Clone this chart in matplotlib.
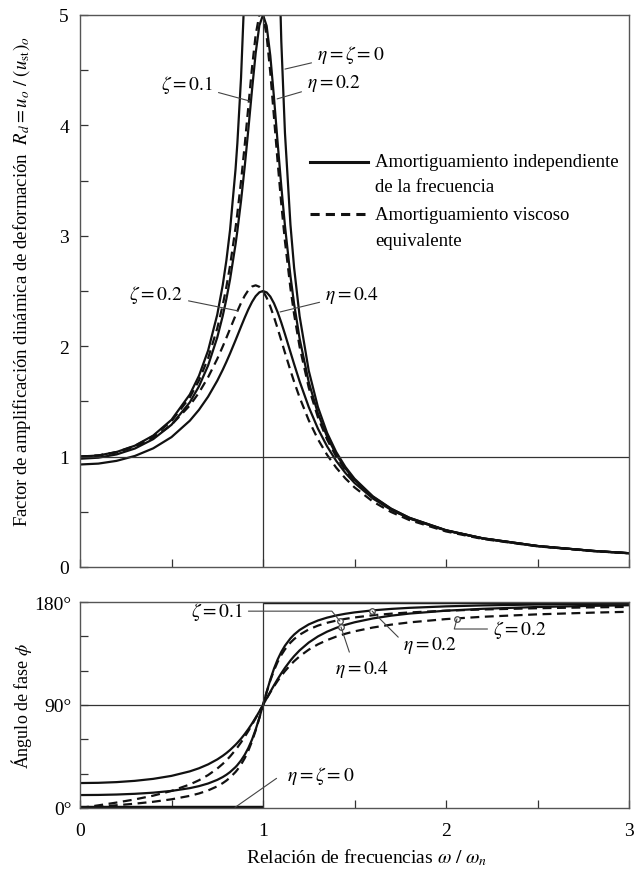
import numpy as np
import matplotlib
matplotlib.use('Agg')
import matplotlib.pyplot as plt
from matplotlib.lines import Line2D

plt.rcParams['font.family'] = ['Liberation Serif', 'DejaVu Serif']
plt.rcParams['mathtext.fontset'] = 'stix'

# frequency ratio w / wn
r = [0.0, 0.1, 0.2, 0.3, 0.4, 0.5, 0.6, 0.65, 0.7, 0.75, 0.78, 0.8, 0.82, 0.85, 0.86,
     0.88, 0.9, 0.92, 0.94, 0.96, 0.98, 1.0, 1.02, 1.04, 1.06, 1.08, 1.1, 1.12, 1.15,
     1.17, 1.2, 1.25, 1.3, 1.35, 1.4, 1.45, 1.5, 1.6, 1.7, 1.8, 2.0, 2.2, 2.5, 2.8, 3.0]

# deformation response factor Rd
rd_none = [1.0, 1.0101, 1.0417, 1.0989, 1.1905, 1.3333, 1.5625, 1.7316, 1.9608, 2.2857,
           2.5536, 2.7778, 3.0525, 3.6036, 3.8402, 4.4326, 5.2632, 6.5104, 8.5911, 12.755,
           25.253, np.nan, 24.752, 12.255, 8.0906, 6.0096, 4.7619, 3.9308, 3.1008, 2.7108,
           2.2727, 1.7778, 1.4493, 1.2158, 1.0417, 0.9070, 0.8, 0.6410, 0.5291, 0.4464,
           0.3333, 0.2604, 0.1905, 0.1462, 0.125]
rd_eta02 = [0.9806, 0.9901, 1.0198, 1.0733, 1.1581, 1.2883, 1.4914, 1.6363, 1.8254, 2.0788,
            2.2742, 2.4282, 2.6054, 2.9234, 3.0456, 3.3168, 3.6250, 3.9655, 4.3214, 4.6551,
            4.9048, 5.0, 4.9010, 4.6295, 4.2533, 3.8436, 3.4483, 3.0902, 2.6352, 2.3831,
            2.0690, 1.6750, 1.3920, 1.1814, 1.0198, 0.8925, 0.7900, 0.6358, 0.5262, 0.4447,
            0.3326, 0.2601, 0.1903, 0.1461, 0.1250]
rd_eta04 = [0.9285, 0.9365, 0.9615, 1.0060, 1.0748, 1.1765, 1.3250, 1.4235, 1.5428, 1.6869,
            1.7864, 1.8582, 1.9341, 2.0541, 2.0951, 2.1776, 2.2582, 2.3339, 2.4004, 2.4533,
            2.4878, 2.5, 2.4873, 2.4495, 2.3886, 2.3082, 2.2135, 2.1095, 1.9462, 1.8378,
            1.6817, 1.4488, 1.2538, 1.0934, 0.9615, 0.8526, 0.7619, 0.6209, 0.5176, 0.4395,
            0.3304, 0.2590, 0.1899, 0.1459, 0.1248]
rd_zeta01 = [1.0, 1.0099, 1.0408, 1.0965, 1.1851, 1.3216, 1.5357, 1.6893, 1.8908, 2.1622,
             2.3723, 2.5384, 2.7296, 3.0728, 3.2043, 3.4949, 3.8208, 4.1721, 4.5224, 4.8218,
             5.0010, 5.0, 4.8086, 4.4756, 4.0749, 3.6675, 3.2880, 2.9502, 2.5245, 2.2891,
             1.9952, 1.6246, 1.3562, 1.1552, 1.0, 0.8772, 0.7779, 0.6279, 0.5207, 0.4408,
             0.3304, 0.2587, 0.1896, 0.1457, 0.1247]
rd_zeta02 = [1.0, 1.0093, 1.0381, 1.0895, 1.1695, 1.2883, 1.4630, 1.5790, 1.7188, 1.8851,
             1.9972, 2.0761, 2.1571, 2.2786, 2.3178, 2.3918, 2.4566, 2.5077, 2.5406, 2.5515,
             2.5381, 2.5, 2.4391, 2.3589, 2.2642, 2.1601, 2.0511, 1.9410, 1.7800, 1.6781,
             1.5357, 1.3287, 1.1574, 1.0163, 0.8998, 0.8027, 0.7212, 0.5931, 0.4979, 0.4250,
             0.3221, 0.2538, 0.1871, 0.1443, 0.1236]

# phase angle (degrees)
ph_eta02 = [11.31, 11.42, 11.77, 12.40, 13.39, 14.93, 17.35, 19.10, 21.41, 24.57, 27.06,
            29.05, 31.40, 35.78, 37.53, 41.56, 46.47, 52.47, 59.80, 68.59, 78.80, 90.0,
            101.42, 112.20, 121.71, 129.76, 136.40, 141.83, 148.19, 151.54, 155.56, 160.43,
            163.83, 166.33, 168.23, 169.72, 170.91, 172.69, 173.96, 174.90, 176.19, 177.02,
            177.82, 178.33, 178.57]
ph_eta04 = [21.80, 22.00, 22.62, 23.73, 25.46, 28.07, 32.01, 34.71, 38.11, 42.44, 45.61,
            48.01, 50.68, 55.25, 56.93, 60.58, 64.59, 69.00, 73.78, 78.91, 84.35, 90.0,
            95.77, 101.53, 107.17, 112.59, 117.70, 122.46, 128.88, 132.68, 137.73, 144.58,
            149.90, 154.07, 157.38, 160.06, 162.26, 165.62, 168.05, 169.88, 172.41, 174.05,
            175.64, 176.65, 177.14]
ph_zeta01 = [0.0, 1.16, 2.39, 3.77, 5.44, 7.59, 10.62, 12.69, 15.35, 18.92, 21.72, 23.96,
             26.60, 31.49, 33.45, 37.96, 43.45, 50.14, 58.24, 67.79, 78.58, 90.0, 101.20,
             111.42, 120.24, 127.61, 133.67, 138.63, 144.50, 147.61, 151.39, 156.04, 159.36,
             161.83, 163.74, 165.26, 166.50, 168.41, 169.80, 170.87, 172.41, 173.46, 174.56,
             175.32, 175.71]
ph_zeta02 = [0.0, 2.31, 4.76, 7.51, 10.78, 14.93, 20.56, 24.24, 28.77, 34.44, 38.55, 41.63,
             45.03, 50.78, 52.88, 57.35, 62.18, 67.35, 72.80, 78.46, 84.23, 90.0, 95.65,
             101.10, 106.25, 111.07, 115.51, 119.59, 125.03, 128.25, 132.51, 138.37, 143.00,
             146.71, 149.74, 152.25, 154.36, 157.69, 160.21, 162.18, 165.07, 167.09, 169.22,
             170.70, 171.47]
r_none_ph = [0.0, 1.0, 1.0, 3.0]
ph_none = [0.0, 0.0, 180.0, 180.0]

W, H = 634, 870
fig = plt.figure(figsize=(W / 100, H / 100), dpi=100)
ax1 = fig.add_axes([80 / W, (H - 568) / H, 549 / W, 552 / H])
ax2 = fig.add_axes([80 / W, (H - 809) / H, 549 / W, 206 / H])

k = '#111111'
lw = 1.6
dash = (0, (4, 2.5))
fs = 14

# --- top: deformation response factor
ax1.plot(r, rd_none, color=k, lw=lw)
ax1.plot(r, rd_eta02, color=k, lw=lw)
ax1.plot(r, rd_eta04, color=k, lw=lw)
ax1.plot(r, rd_zeta01, color=k, lw=lw, ls=dash)
ax1.plot(r, rd_zeta02, color=k, lw=lw, ls=dash)
ax1.axhline(1, color='#333333', lw=0.9)
ax1.axvline(1, color='#333333', lw=0.9)
ax1.set_xlim(0, 3)
ax1.set_ylim(0, 5)
ax1.set_xticks(np.arange(0, 3.01, 0.5))
ax1.set_xticklabels([])
ax1.set_yticks(range(6))
ax1.set_yticks(np.arange(0.5, 5, 1.0), minor=True)

lead = dict(arrowstyle='-', lw=0.8, color='#444444', shrinkA=2, shrinkB=0)
ax1.annotate(r'$\zeta = 0.1$', xy=(0.929, 4.22), xytext=(0.727, 4.375),
             ha='right', va='center', fontsize=fs, arrowprops=lead)
ax1.annotate(r'$\eta = \zeta = 0$', xy=(1.12, 4.51), xytext=(1.295, 4.65),
             ha='left', va='center', fontsize=fs, arrowprops=lead)
ax1.annotate(r'$\eta = 0.2$', xy=(1.077, 4.24), xytext=(1.24, 4.39),
             ha='left', va='center', fontsize=fs, arrowprops=lead)
ax1.annotate(r'$\zeta = 0.2$', xy=(0.863, 2.32), xytext=(0.563, 2.47),
             ha='right', va='center', fontsize=fs, arrowprops=lead)
ax1.annotate(r'$\eta = 0.4$', xy=(1.093, 2.31), xytext=(1.339, 2.47),
             ha='left', va='center', fontsize=fs, arrowprops=lead)

# key
tr = ax1.transAxes
kfs = 13.5
ax1.add_line(Line2D([0.419, 0.525], [0.734, 0.734], transform=tr, color=k, lw=2.2))
ax1.add_line(Line2D([0.419, 0.525], [0.639, 0.639], transform=tr, color=k, lw=2.2,
                    ls=(0, (3, 2))))
ax1.text(0.537, 0.734, 'Amortiguamiento independiente', transform=tr, fontsize=kfs, va='center')
ax1.text(0.537, 0.690, 'de la frecuencia', transform=tr, fontsize=kfs, va='center')
ax1.text(0.537, 0.639, 'Amortiguamiento viscoso', transform=tr, fontsize=kfs, va='center')
ax1.text(0.537, 0.592, 'equivalente', transform=tr, fontsize=kfs, va='center')

# --- bottom: phase angle
ax2.plot(r_none_ph[:2], ph_none[:2], color=k, lw=3.2, solid_capstyle='butt')
ax2.plot(r_none_ph[2:], ph_none[2:], color=k, lw=3.2, solid_capstyle='butt')
ax2.plot(r, ph_eta02, color=k, lw=lw)
ax2.plot(r, ph_eta04, color=k, lw=lw)
ax2.plot(r, ph_zeta01, color=k, lw=lw, ls=dash)
ax2.plot(r, ph_zeta02, color=k, lw=lw, ls=dash)
ax2.axhline(90, color='#333333', lw=0.9)
ax2.axvline(1, color='#333333', lw=0.9)
ax2.set_xlim(0, 3)
ax2.set_ylim(0, 180)
ax2.set_xticks(range(4))
ax2.set_xticklabels(['0', '1', '2', '3'])
ax2.set_xticks(np.arange(0.5, 3, 1.0), minor=True)
ax2.set_yticks([0, 90, 180])
ax2.set_yticklabels(['0°', '90°', '180°'])
ax2.set_yticks([30, 60, 120, 150], minor=True)

ax2.annotate(r'$\zeta = 0.1$', xy=(1.42, 163.4), xytext=(0.89, 172),
             ha='right', va='center', fontsize=fs,
             arrowprops=dict(lead, connectionstyle='angle,angleA=0,angleB=-51,rad=0'))
ax2.annotate(r'$\eta = 0.2$', xy=(1.596, 172.1), xytext=(1.765, 143.3),
             ha='left', va='center', fontsize=fs,
             arrowprops=dict(lead, relpos=(0.0, 0.6)))
ax2.annotate(r'$\eta = 0.4$', xy=(1.426, 158.2), xytext=(1.393, 122.3),
             ha='left', va='center', fontsize=fs,
             arrowprops=dict(lead, relpos=(0.3, 1.0)))
ax2.annotate(r'$\zeta = 0.2$', xy=(2.06, 165.2), xytext=(2.257, 156.4),
             ha='left', va='center', fontsize=fs,
             arrowprops=dict(lead, relpos=(0.0, 0.5),
                             connectionstyle='angle,angleA=0,angleB=75,rad=0'))
ax2.annotate(r'$\eta = \zeta = 0$', xy=(0.847, 0.5), xytext=(1.131, 28.8),
             ha='left', va='center', fontsize=fs,
             arrowprops=dict(lead, relpos=(0.0, 0.5), shrinkA=6,
                             connectionstyle='angle,angleA=0,angleB=35,rad=0'))
ax2.plot([1.42, 1.596, 1.426, 2.06], [163.4, 172.1, 158.2, 165.2], 'o', ms=4,
         mfc='white', mec='#444444', mew=0.9)

for ax in (ax1, ax2):
    for s in ax.spines.values():
        s.set_color('#555555')
        s.set_linewidth(1.0)
    ax.tick_params(which='both', direction='in', length=6, width=0.9, color='#333333',
                   labelsize=fs, top=False, right=False)
ax1.tick_params(axis='y', pad=8)
ax2.tick_params(axis='y', pad=6)
ax2.tick_params(axis='x', pad=10)

fig.text(22 / W, (H - 282) / H,
         r'Factor de amplificación dinámica de deformación  $R_d = u_o\ /\ (u_{\rm st})_o$',
         rotation=90, ha='center', va='center', fontsize=13.5)
fig.text(22 / W, (H - 706) / H, r'Ángulo de fase $\phi$', rotation=90,
         ha='center', va='center', fontsize=13)
fig.text(246 / W, (H - 858) / H, r'Relación de frecuencias $\omega\ /\ \omega_n$',
         ha='left', va='center', fontsize=fs)

fig.savefig('out.png', dpi=100)
